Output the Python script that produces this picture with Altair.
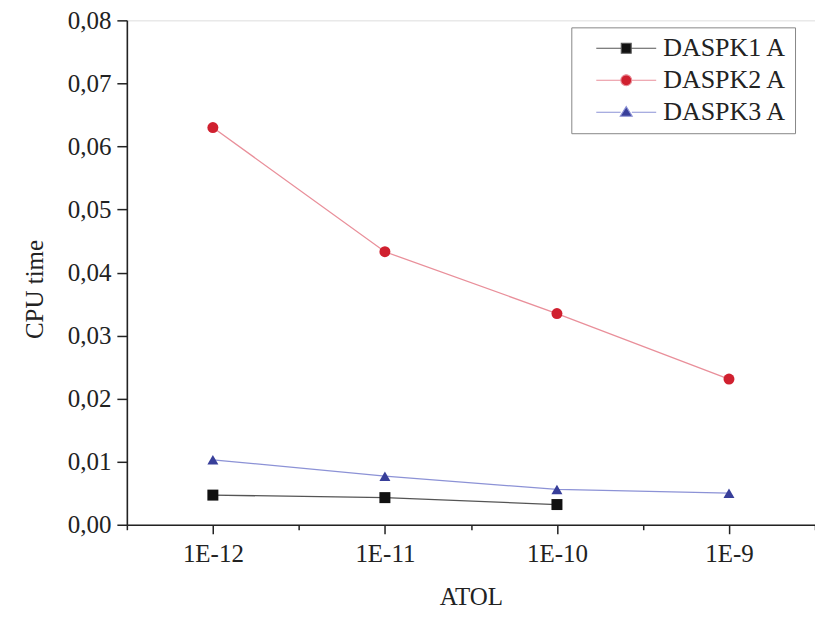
import altair as alt
import pandas as pd

categories = ["1E-12", "1E-11", "1E-10", "1E-9"]
series_names = ["DASPK1 A", "DASPK2 A", "DASPK3 A"]
daspk1 = [0.0047, 0.0043, 0.0032, None]
daspk2 = [0.0630, 0.0433, 0.0335, 0.0231]
daspk3 = [0.0103, 0.0077, 0.0056, 0.0050]
y_ticks = [0.0, 0.005, 0.01, 0.015, 0.02, 0.025, 0.03, 0.035, 0.04,
           0.045, 0.05, 0.055, 0.06, 0.065, 0.07, 0.075, 0.08]

rows = []
for name, vals in zip(series_names, [daspk1, daspk2, daspk3]):
    for c, v in zip(categories, vals):
        if v is not None:
            rows.append({"ATOL": c, "series": name, "value": v})
df = pd.DataFrame(rows)

marker_colors = ["#111111", "#d0202f", "#383f9a"]
line_colors = ["#555555", "#e98f9a", "#8c92d6"]
FONT = "Liberation Serif"

xscale = alt.Scale(type="point", padding=0.5, domain=categories)
yscale = alt.Scale(domain=[0, 0.08], nice=False, zero=True)
major_test = "abs(datum.value*100 - round(datum.value*100)) < 0.001"

y_axis = alt.Axis(
    values=y_ticks,
    labelExpr=f"{major_test} ? replace(format(datum.value, '.2f'), '.', ',') : ''",
    tickSize={"condition": {"test": major_test, "value": 10}, "value": 5},
    grid=False, labelOverlap=False, labelFlush=False,
    labelFont=FONT, labelFontSize=25, labelColor="#222", labelPadding=6,
    title="CPU time", titleFont=FONT, titleFontSize=25, titleFontWeight="normal",
    titleColor="#222", titlePadding=20, titleY=269,
    domainColor="#222", domainWidth=1.6, tickColor="#222", tickWidth=1.5,
)

x_axis = alt.Axis(
    orient="bottom", labelAngle=0, grid=False,
    labelFont=FONT, labelFontSize=25, labelColor="#222", labelPadding=8,
    title="ATOL", titleFont=FONT, titleFontSize=25, titleFontWeight="normal",
    titleColor="#222", titlePadding=18,
    domainColor="#222", domainWidth=1.6, tickColor="#222", tickWidth=1.5, tickSize=9,
)

base = alt.Chart(df)

lines = base.mark_line(strokeWidth=1.3).encode(
    x=alt.X("ATOL:N", scale=xscale, axis=x_axis, sort=categories),
    y=alt.Y("value:Q", scale=yscale, axis=y_axis),
    color=alt.Color("series:N", scale=alt.Scale(domain=series_names, range=line_colors), legend=None),
)

points = base.mark_point(filled=True, opacity=1, size=121).encode(
    x=alt.X("ATOL:N", scale=xscale, axis=None, sort=categories),
    y=alt.Y("value:Q", scale=yscale),
    color=alt.Color("series:N", scale=alt.Scale(domain=series_names, range=marker_colors), legend=None),
    shape=alt.Shape("series:N", scale=alt.Scale(domain=series_names,
                    range=["square", "circle", "triangle-up"]), legend=None),
)

legend_paths = [
    "M-3.75,0H-0.62M0.62,0H3.75M-0.62,-0.62H0.62V0.62H-0.62Z",
    "M-3.75,0H-0.68M0.68,0H3.75M0.68,0A0.68,0.68 0 1,1 -0.68,0A0.68,0.68 0 1,1 0.68,0Z",
    "M-3.75,0H-0.7M0.7,0H3.75M0,-0.7L0.75,0.5L-0.75,0.5Z",
]
leg = alt.Legend(
    title=None, orient="none", legendX=445, legendY=7,
    labelFont=FONT, labelFontSize=26, labelColor="#222", labelOffset=24,
    symbolSize=256, symbolOpacity=1, symbolStrokeWidth=1.1, symbolOffset=34,
    rowPadding=6, padding=8, strokeColor="#888", fillColor="white",
)
legend_layer = base.mark_point(filled=True, opacity=0).encode(
    x=alt.X("ATOL:N", scale=xscale, axis=None, sort=categories),
    y=alt.Y("value:Q", scale=yscale),
    fill=alt.Fill("series:N", scale=alt.Scale(domain=series_names, range=marker_colors), legend=leg),
    stroke=alt.Stroke("series:N", scale=alt.Scale(domain=series_names, range=line_colors), legend=leg),
    shape=alt.Shape("series:N", scale=alt.Scale(domain=series_names, range=legend_paths), legend=leg),
)

minor_x = alt.Chart(pd.DataFrame({"ATOL": categories, "value": [0] * 4})).mark_point(opacity=0).encode(
    x=alt.X("ATOL:N", sort=categories,
            scale=alt.Scale(type="band", paddingInner=0, paddingOuter=0, domain=categories),
            axis=alt.Axis(orient="bottom", tickBand="extent", labels=False, domain=False,
                          title=None, tickSize=5, tickColor="#222", tickWidth=1.5, grid=False)),
    y=alt.Y("value:Q", scale=yscale),
)

chart = alt.layer(lines, points, legend_layer, minor_x).resolve_scale(
    x="independent", color="independent", shape="independent",
    fill="independent", stroke="independent"
).properties(
    width=689, height=505,
    autosize=alt.AutoSizeParams(type="none"),
    padding={"left": 119, "top": 12, "right": 0, "bottom": 85},
).configure_view(stroke=None).configure(background="white")

chart.save("out.html", embed_options={"renderer": "svg", "actions": False})
